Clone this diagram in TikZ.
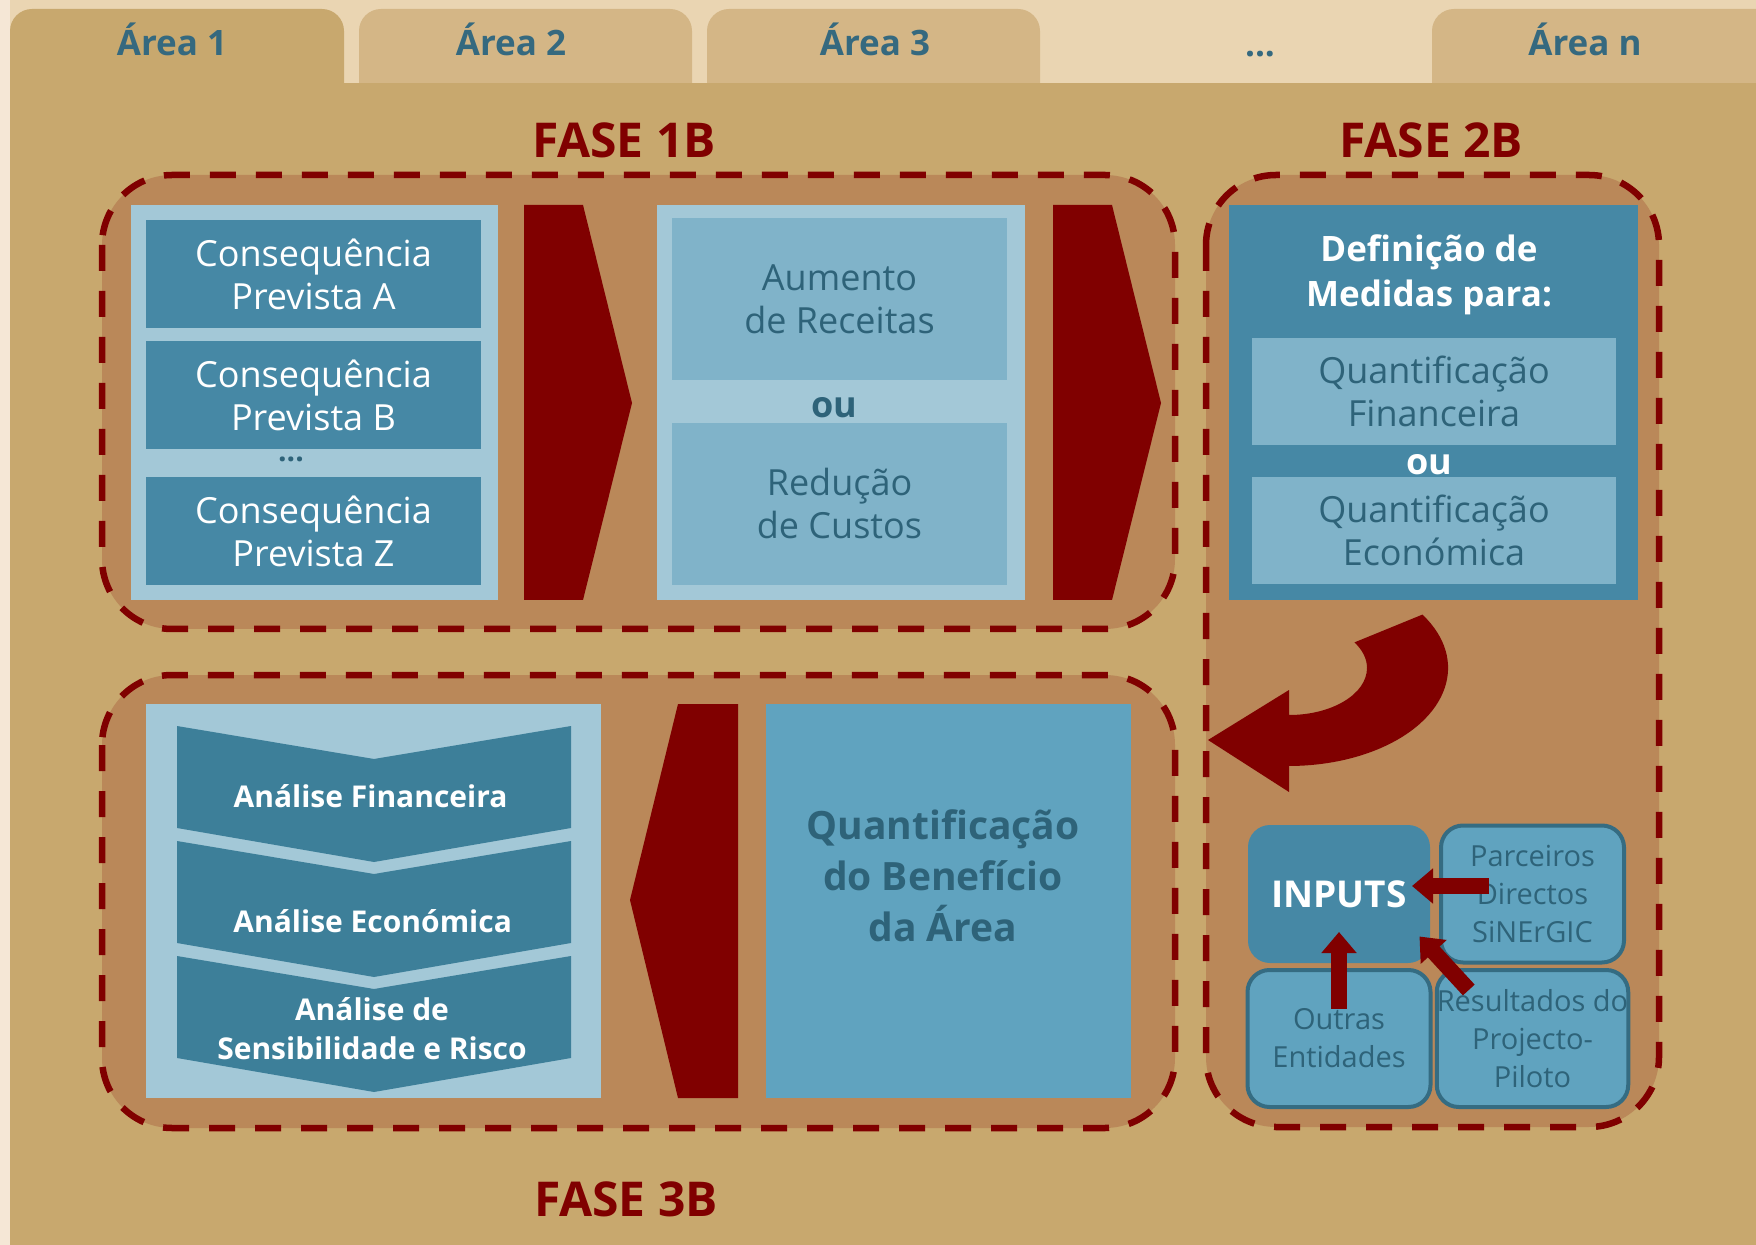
\documentclass[tikz,border=0pt]{standalone}
\usepackage{fontspec}
\setmainfont{Open Sans}
\usetikzlibrary{arrows.meta,calc}
\definecolor{bgcream}{HTML}{EAD5B2}
\definecolor{bgstrip}{HTML}{F5E7D6}
\definecolor{paneltan}{HTML}{C8A86E}
\definecolor{tabtan}{HTML}{D4B686}
\definecolor{phasefill}{HTML}{BA8859}
\definecolor{dred}{HTML}{800000}
\definecolor{ltblue}{HTML}{A3C8D7}
\definecolor{mdblue}{HTML}{80B3C9}
\definecolor{dkblue}{HTML}{4688A5}
\definecolor{chevteal}{HTML}{3D7F99}
\definecolor{qblue}{HTML}{60A3BF}
\definecolor{bordblue}{HTML}{356C82}
\definecolor{tealtxt}{HTML}{2E6379}
\definecolor{tabtxt}{HTML}{35697F}
\newcommand\ftab{\fontsize{17.5}{20}\selectfont\bfseries}
\newcommand\ffase{\fontsize{24}{28}\selectfont\bfseries}
\newcommand\fbody{\fontsize{18}{21.5}\selectfont}
\newcommand\fbold{\fontsize{18}{21.5}\selectfont\bfseries}
\newcommand\fdef{\fontsize{17.5}{22.5}\selectfont\bfseries}
\newcommand\fsmall{\fontsize{14.5}{19}\selectfont}
\newcommand\finp{\fontsize{18.5}{21}\selectfont\bfseries}
\newcommand\fana{\fontsize{15}{19.5}\selectfont\bfseries}
\newcommand\fquant{\fontsize{19.5}{25.5}\selectfont\bfseries}
\newcommand\fdots{\fontsize{15}{18}\selectfont\bfseries}
\begin{document}
\begin{tikzpicture}[x=0.5pt,y=-0.5pt,
  every node/.style={inner sep=0pt,outer sep=0pt},
  tabshape/.style={rounded corners=11pt},
  phase/.style={fill=phasefill,draw=dred,line width=3.25pt,dash pattern=on 13pt off 10pt,rounded corners=35pt},
  ltcol/.style={fill=ltblue},
  dkrect/.style={fill=dkblue,text=white,font=\fbody,align=center,minimum width=167.5pt,minimum height=54pt},
  mdrect/.style={fill=mdblue,text=tealtxt,font=\fbody,align=center},
  chev/.style={fill=dred},
  anachev/.style={fill=chevteal},
  anatxt/.style={text=white,font=\fana,align=center},
  smallbox/.style={fill=qblue,draw=bordblue,line width=2pt,rounded corners=11pt,text=tealtxt,font=\fsmall,align=center,minimum width=91.5pt,minimum height=68.5pt},
  redarrow/.style={draw=dred,line width=8pt,-{Triangle[length=10.5pt,width=17pt]}},
  tabtext/.style={font=\ftab,text=tabtxt,anchor=base},
  fasetext/.style={font=\ffase,text=dred,anchor=base}
]
\useasboundingbox (0,0) rectangle (1756,1245);
\begin{scope}
\clip (0,0) rectangle (1756,1245);
\fill[bgcream] (0,0) rectangle (1756,1245);
\fill[bgstrip] (0,0) rectangle (10,1245);
% tabs
\fill[paneltan,tabshape] (10,9) rectangle (344,130);
\fill[tabtan,tabshape] (359,9) rectangle (692,130);
\fill[tabtan,tabshape] (707,9) rectangle (1040,130);
\fill[tabtan,tabshape] (1432,9) rectangle (1800,130);
% main panel
\fill[paneltan] (10,83) rectangle (1756,1245);
\end{scope}

\node[tabtext] (t1) at (172,56) {Área 1};
\node[tabtext] (t2) at (511,56) {Área 2};
\node[tabtext] (t3) at (875,56) {Área 3};
\node[tabtext] (tdots) at (1260,57) {...};
\node[tabtext] (tn) at (1585,56) {Área n};

\node[fasetext] (f1) at (624,158) {FASE 1B};
\node[fasetext] (f2) at (1431,158) {FASE 2B};
\node[fasetext] (f3) at (626,1216) {FASE 3B};

% phase panels
\path[phase] (102,175) rectangle (1175,629);
\path[phase] (1206,175) rectangle (1659,1127);
\path[phase] (102,675) rectangle (1175,1128);

% ---- FASE 1B ----
\node[ltcol,minimum width=183.5pt,minimum height=197.5pt] (col1) at (314.5,402.5) {};
\node[dkrect] (cA) at (313.5,274) {Consequência\\Prevista A};
\node[dkrect] (cB) at (313.5,395) {Consequência\\Prevista B};
\node[font=\fdots,text=tealtxt] (cdots) at (291,459) {...};
\node[dkrect] (cZ) at (313.5,531) {Consequência\\Prevista Z};

\fill[chev] (524,205) -- (583,205) -- (632,403) -- (583,600) -- (524,600) -- cycle;

\node[ltcol,minimum width=184pt,minimum height=197.5pt] (col2) at (841,402.5) {};
\node[mdrect,minimum width=167.5pt,minimum height=81pt] (aum) at (839.5,299) {Aumento\\de Receitas};
\node[font=\fbold,text=tealtxt] (ou1) at (834,408) {ou};
\node[mdrect,minimum width=167.5pt,minimum height=81pt] (red) at (839.5,504) {Redução\\de Custos};

\fill[chev] (1053,205) -- (1112,205) -- (1161,403) -- (1112,600) -- (1053,600) -- cycle;

% ---- FASE 2B ----
\node[fill=dkblue,minimum width=204.5pt,minimum height=197.5pt] (defbox) at (1433.5,402.5) {};
\node[font=\fdef,text=white,align=center] (deft) at (1429,275) {Definição de\\Medidas para:};
\node[mdrect,minimum width=182pt,minimum height=53.5pt] (qf) at (1434,391.5) {Quantificação\\Financeira};
\node[font=\fbold,text=white] (ou2) at (1429,465) {ou};
\node[mdrect,minimum width=182pt,minimum height=53.5pt] (qe) at (1434,530.5) {Quantificação\\Económica};

% curved block arrow
\fill[dred] (1208,740) -- (1289,690) -- (1289,715)
  arc[start angle=90,end angle=-33,x radius=78,y radius=47]
  -- (1422.4,614.6)
  arc[start angle=-33,end angle=90,x radius=159,y radius=98]
  -- (1289,792) -- cycle;

% inputs grid
\node[fill=dkblue,rounded corners=11pt,minimum width=91pt,minimum height=69pt,text=white,font=\finp] (inp) at (1339,894) {INPUTS};
\node[smallbox] (parc) at (1532.5,894) {Parceiros\\Directos\\SiNErGIC};
\node[smallbox] (outr) at (1339,1038.5) {Outras\\Entidades};
\node[smallbox] (res) at (1532.5,1038.5) {Resultados do\\Projecto-\\Piloto};

\draw[redarrow] ($(parc.west)+(48,-8)$) -- ($(inp.east)+(-18,-8)$);
\draw[redarrow] ($(outr.center)+(0,-29.5)$) -- ($(inp.center)+(0,38)$);
\draw[redarrow] ($(res.north west)+(32,20)$) -- ($(inp.south east)+(-10.5,-26.5)$);

% ---- FASE 3B ----
\node[ltcol,minimum width=227.5pt,minimum height=197pt] (anabox) at (373.5,901) {};
\foreach \yt in {726,841,956}{
  \fill[anachev] (177,\yt) -- (374,\yt+33) -- (571,\yt) -- (571,\yt+102) -- (374,\yt+136) -- (177,\yt+102) -- cycle;
}
\node[anatxt,anchor=base] (a1) at (370.6,807) {Análise Financeira};
\node[anatxt,anchor=base] (a2) at (372.7,932) {Análise Económica};
\node[anatxt] (a3) at (372,1028.5) {Análise de\\Sensibilidade e Risco};

\fill[chev] (738,704) -- (678,704) -- (630,900) -- (678,1098) -- (738,1098) -- cycle;

\node[fill=qblue,minimum width=182.5pt,minimum height=197pt] (qbox) at (948.5,901) {};
\node[font=\fquant,text=tealtxt,align=center] (qtxt) at (943,876) {Quantificação\\do Benefício\\da Área};
\end{tikzpicture}
\end{document}
